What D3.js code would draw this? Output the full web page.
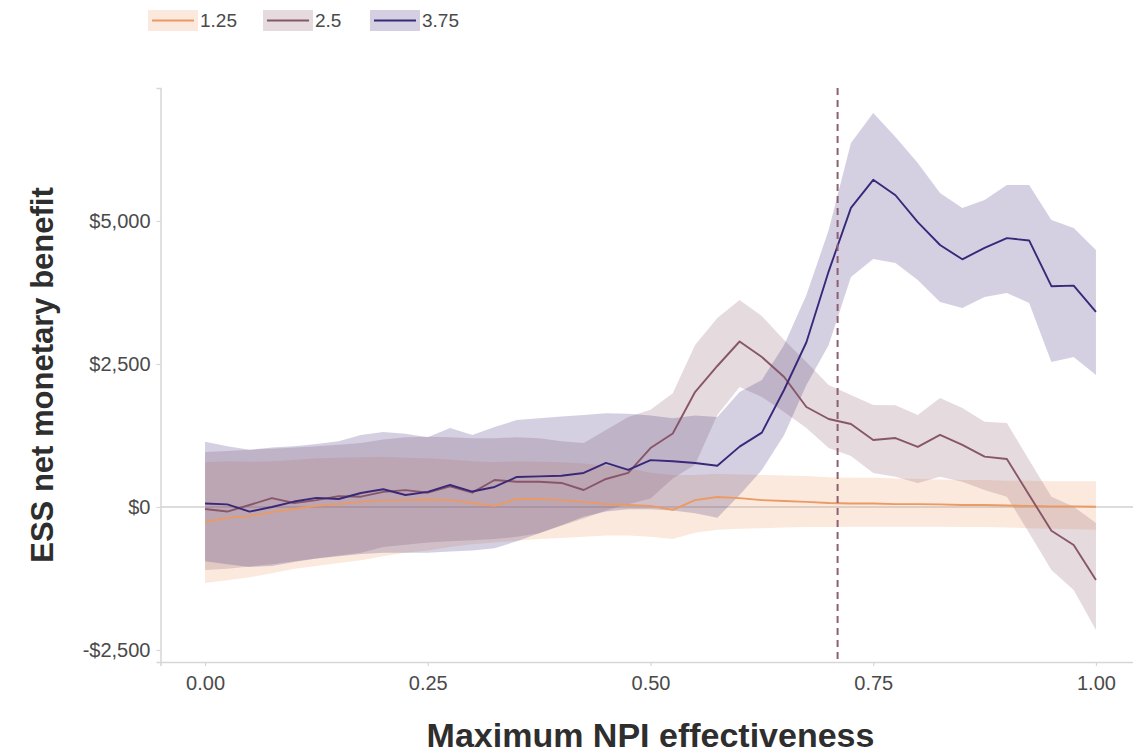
<!DOCTYPE html>
<html lang="en">
<head>
<meta charset="utf-8">
<title>ESS net monetary benefit by maximum NPI effectiveness</title>
<script src="https://d3js.org/d3.v7.min.js"></script>
<style>
  body { margin: 0; background: #fff; }
  svg text { font-family: "Liberation Sans", Arial, Helvetica, sans-serif; }
</style>
</head>
<body>
<script>
// x positions (maximum NPI effectiveness)
var effectiveness = [0, 0.025, 0.05, 0.075, 0.1, 0.125, 0.15, 0.175, 0.2, 0.225,
  0.25, 0.275, 0.3, 0.325, 0.35, 0.375, 0.4, 0.425, 0.45, 0.475,
  0.5, 0.525, 0.55, 0.575, 0.6, 0.625, 0.65, 0.675, 0.7, 0.725,
  0.75, 0.775, 0.8, 0.825, 0.85, 0.875, 0.9, 0.925, 0.95, 0.975, 1];

// series 1.25
var mean125 = [-257, -190, -160, -90, -35, 20, 50, 90, 115, 120,
  130, 120, 70, 20, 140, 140, 120, 90, 50, 35,
  20, -50, 120, 175, 155, 120, 105, 90, 70, 60,
  60, 50, 50, 45, 35, 35, 25, 20, 10, 10, 5];
var lower125 = [-1330, -1280, -1230, -1160, -1080, -1030, -980, -930, -860, -800,
  -760, -700, -650, -620, -590, -560, -540, -520, -500, -500,
  -520, -560, -450, -400, -380, -370, -360, -350, -350, -345,
  -345, -345, -345, -345, -350, -350, -360, -370, -380, -390, -400];
var upper125 = [780, 800, 790, 800, 820, 850, 860, 870, 880, 860,
  850, 830, 800, 780, 800, 790, 780, 760, 720, 680,
  600, 560, 560, 580, 570, 560, 550, 540, 520, 510,
  510, 500, 490, 480, 470, 470, 460, 460, 450, 450, 450];

// series 2.5
var mean250 = [-35, -80, 35, 155, 70, 120, 190, 180, 265, 295,
  250, 360, 250, 472, 442, 442, 420, 297, 490, 595,
  1031, 1285, 2010, 2465, 2893, 2622, 2272, 1748, 1538, 1450,
  1170, 1205, 1050, 1260, 1085, 880, 840, 210, -415, -665, -1275];
var lower250 = [-1100, -1080, -1040, -1000, -950, -900, -850, -800, -700, -660,
  -620, -600, -580, -560, -520, -460, -330, -200, -60, 50,
  150, 500, 740, 1608, 2098, 1923, 1660, 1381, 1031, 890,
  594, 530, 420, 530, 442, 297, 180, -454, -1101, -1451, -2150];
var upper250 = [960, 980, 1000, 1020, 1040, 1060, 1090, 1120, 1180, 1220,
  1230, 1220, 1200, 1200, 1220, 1200, 1150, 1120, 1346, 1573,
  1700, 1990, 2832, 3304, 3618, 3339, 2919, 2535, 2133, 1958,
  1783, 1780, 1608, 1905, 1730, 1491, 1468, 821, 180, 5, -280];

// series 3.75
var mean375 = [60, 45, -80, 0, 95, 160, 140, 245, 310, 210,
  265, 385, 270, 350, 525, 535, 545, 595, 770, 650,
  820, 800, 770, 720, 1055, 1300, 2050, 2880, 4120, 5230,
  5720, 5450, 4980, 4580, 4330, 4530, 4700, 4660, 3860, 3870, 3410];
var lower375 = [-950, -1000, -1050, -1030, -960, -900, -860, -820, -800, -800,
  -800, -780, -760, -720, -600, -460, -320, -170, -80, -40,
  -40, -60, -110, -190, 210, 647, 1258, 2133, 2832, 4020,
  4335, 4265, 3968, 3583, 3478, 3671, 3741, 3566, 2535, 2622, 2307];
var upper375 = [1140, 1060, 1000, 1040, 1060, 1100, 1150, 1260, 1310, 1280,
  1220, 1380, 1260, 1400, 1520, 1550, 1580, 1610, 1640, 1630,
  1600, 1550, 1600, 1573, 2010, 2220, 2832, 3706, 4842, 6363,
  6887, 6468, 6013, 5489, 5227, 5367, 5629, 5629, 5017, 4877, 4492];

var seriesNames = ["1.25", "2.5", "3.75"];
var lineColors = ["#eb9a63", "#875669", "#39287a"];
var yTicks = [-2500, 0, 2500, 5000];
var xTicks = [0, 0.25, 0.5, 0.75, 1];
var thresholdX = 0.71;

var W = 1133, H = 753;
var panel = { left: 160.5, right: 1140.5, top: 88, bottom: 662 };

var svg = d3.select("body").append("svg")
  .attr("width", W)
  .attr("height", H);

var x = d3.scaleLinear().domain([-0.05, 1.05]).range([panel.left, panel.right]);
var y = d3.scaleLinear().domain([-2710, 7325]).range([panel.bottom, panel.top]);

var series = [
  { name: seriesNames[0], color: lineColors[0], mean: mean125, lo: lower125, hi: upper125 },
  { name: seriesNames[1], color: lineColors[1], mean: mean250, lo: lower250, hi: upper250 },
  { name: seriesNames[2], color: lineColors[2], mean: mean375, lo: lower375, hi: upper375 }
];

// zero reference line
svg.append("line")
  .attr("x1", panel.left).attr("x2", panel.right)
  .attr("y1", y(0)).attr("y2", y(0))
  .attr("stroke", "#d0d0d0")
  .attr("stroke-width", 1.5);

var area = d3.area()
  .x(function(d) { return x(d.x); })
  .y0(function(d) { return y(d.lo); })
  .y1(function(d) { return y(d.hi); });

var line = d3.line()
  .x(function(d) { return x(d.x); })
  .y(function(d) { return y(d.m); });

function rows(s) {
  return effectiveness.map(function(e, i) {
    return { x: e, m: s.mean[i], lo: s.lo[i], hi: s.hi[i] };
  });
}

// ribbons first, then lines on top
svg.append("g").selectAll("path")
  .data(series)
  .enter().append("path")
  .attr("d", function(s) { return area(rows(s)); })
  .attr("fill", function(s) { return s.color; })
  .attr("fill-opacity", 0.22)
  .attr("stroke", "none");

svg.append("g").selectAll("path")
  .data(series)
  .enter().append("path")
  .attr("d", function(s) { return line(rows(s)); })
  .attr("fill", "none")
  .attr("stroke", function(s) { return s.color; })
  .attr("stroke-width", 1.9)
  .attr("stroke-linejoin", "round");

// threshold line
svg.append("line")
  .attr("x1", x(thresholdX)).attr("x2", x(thresholdX))
  .attr("y1", panel.top).attr("y2", panel.bottom)
  .attr("stroke", "#8d5f70")
  .attr("stroke-width", 2)
  .attr("stroke-dasharray", "7,5");

// axes
var fmtMoney = function(v) {
  return (v < 0 ? "-$" : "$") + d3.format(",")(Math.abs(v));
};

var gx = svg.append("g")
  .attr("transform", "translate(0," + panel.bottom + ")")
  .call(d3.axisBottom(x).tickValues(xTicks).tickFormat(d3.format(".2f")).tickSize(4).tickPadding(10));
var gy = svg.append("g")
  .attr("transform", "translate(" + panel.left + ",0)")
  .call(d3.axisLeft(y).tickValues(yTicks).tickFormat(fmtMoney).tickSize(4).tickPadding(6));

[gx, gy].forEach(function(g) {
  g.select(".domain").attr("stroke", "#d6d6d6").attr("stroke-width", 1.5);
  g.selectAll(".tick line").attr("stroke", "#d6d6d6").attr("stroke-width", 1.2);
  g.selectAll(".tick text")
    .attr("fill", "#4a4a4a")
    .style("font-size", "20px")
    .style("font-family", "'Liberation Sans', Arial, sans-serif");
});
gy.selectAll(".tick text").attr("dy", "0.35em");

// axis titles
svg.append("text")
  .attr("x", (panel.left + panel.right) / 2)
  .attr("y", 747)
  .attr("text-anchor", "middle")
  .attr("fill", "#2e2e2e")
  .style("font-size", "34px")
  .style("font-weight", "bold")
  .text("Maximum NPI effectiveness");

svg.append("text")
  .attr("transform", "translate(53," + ((panel.top + panel.bottom) / 2) + ") rotate(-90)")
  .attr("text-anchor", "middle")
  .attr("fill", "#2e2e2e")
  .style("font-size", "31px")
  .style("font-weight", "bold")
  .text("ESS net monetary benefit");

// legend
var legendX = [148, 263, 370];
var legend = svg.append("g").selectAll("g")
  .data(series)
  .enter().append("g")
  .attr("transform", function(s, i) { return "translate(" + legendX[i] + ",10)"; });

legend.append("rect")
  .attr("width", 50).attr("height", 21)
  .attr("fill", function(s) { return s.color; })
  .attr("fill-opacity", 0.22);
legend.append("line")
  .attr("x1", 4).attr("x2", 46)
  .attr("y1", 10.5).attr("y2", 10.5)
  .attr("stroke", function(s) { return s.color; })
  .attr("stroke-width", 1.8);
legend.append("text")
  .attr("x", 52).attr("y", 10.5)
  .attr("dy", "0.35em")
  .attr("fill", "#4a4a4a")
  .style("font-size", "19px")
  .text(function(s) { return s.name; });
</script>
</body>
</html>
